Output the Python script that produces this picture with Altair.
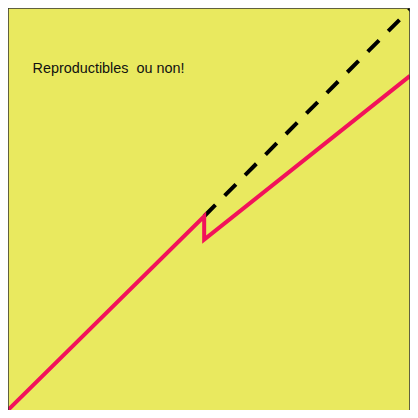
import altair as alt
import pandas as pd

red_x = [0.0, 4.88, 4.88, 10.0]
red_y = [0.0, 4.82, 4.24, 8.31]
dash_x = [4.88, 10.0]
dash_y = [4.82, 9.97]
label = "Reproductibles\u00a0 ou non!"

W = 402
H = 402

red = pd.DataFrame({"x": red_x, "y": red_y, "o": list(range(len(red_x)))})
dash = pd.DataFrame({"x": dash_x, "y": dash_y, "o": list(range(len(dash_x)))})
txt = pd.DataFrame({"x": [0.61], "y": [8.38], "t": [label]})

xs = alt.Scale(domain=[0, 10], nice=False, zero=False)
ys = alt.Scale(domain=[0, 10], nice=False, zero=False)

base_x = alt.X("x:Q", scale=xs, axis=None)
base_y = alt.Y("y:Q", scale=ys, axis=None)

red_line = alt.Chart(red).mark_line(color="#F2125A", strokeWidth=4).encode(
    x=base_x, y=base_y, order="o:Q")
dash_line = alt.Chart(dash).mark_line(color="black", strokeWidth=4, strokeDash=[16, 13]).encode(
    x=base_x, y=base_y, order="o:Q")
text = alt.Chart(txt).mark_text(align="left", baseline="alphabetic", fontSize=14.4,
                                font="Liberation Sans", color="#111111").encode(
    x=base_x, y=base_y, text="t:N")

frame_style = dict(color="#333333", strokeWidth=1.5)
left_rule = alt.Chart().mark_rule(**frame_style).encode(
    x=alt.value(0), y=alt.value(0), y2=alt.value(H))
top_rule = alt.Chart().mark_rule(**frame_style).encode(
    y=alt.value(0), x=alt.value(0), x2=alt.value(W))
right_rule = alt.Chart().mark_rule(**frame_style).encode(
    x=alt.value(W), y=alt.value(0), y2=alt.value(H))

chart = alt.layer(dash_line, red_line, text, left_rule, top_rule, right_rule).properties(
    width=W, height=H,
    autosize=alt.AutoSizeParams(type="none"),
    padding=0,
    background="white",
).configure_view(fill="#E9E95F", strokeWidth=0)

chart.save("out.html", embed_options={"renderer": "svg", "actions": False})
